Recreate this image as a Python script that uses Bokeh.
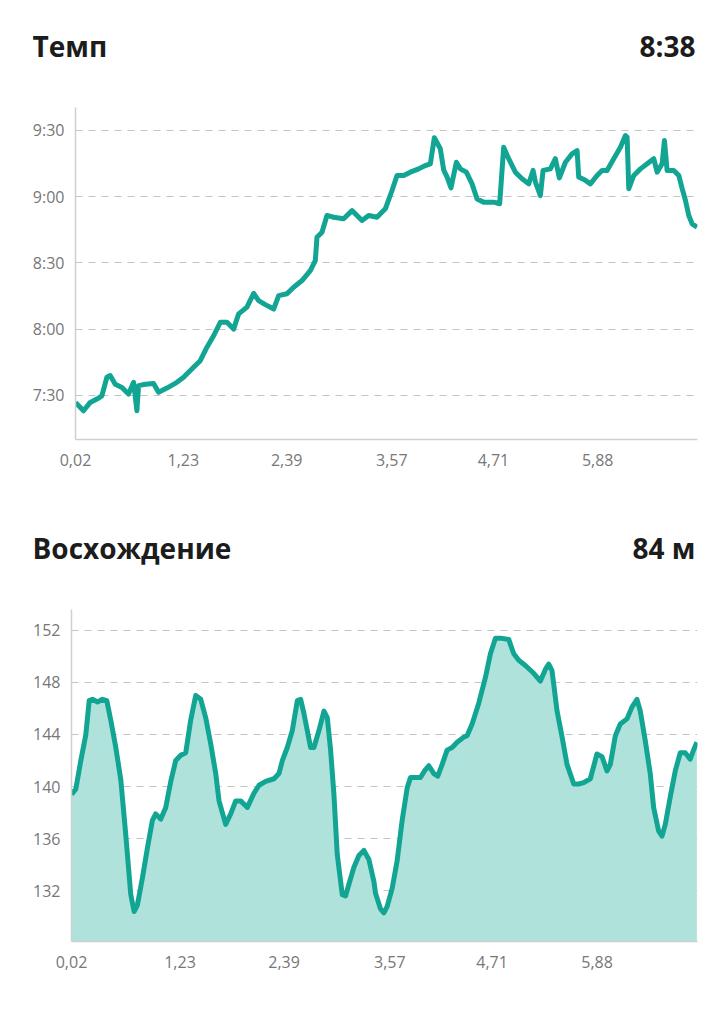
from bokeh.plotting import figure
from bokeh.models import Range1d, FixedTicker
from bokeh.layouts import column
from bokeh.core.properties import value
from bokeh.embed import file_html
from bokeh.resources import INLINE

# ---------------- data ----------------
# distance (km) and pace (seconds per km)
pace_km = [0.02, 0.11, 0.185, 0.26, 0.316, 0.372, 0.409, 0.466, 0.541, 0.615, 0.672, 0.709,
           0.728, 0.803, 0.896, 0.952, 1.046, 1.158, 1.233, 1.345, 1.42, 1.495, 1.57, 1.645,
           1.72, 1.794, 1.851, 1.944, 2.019, 2.075, 2.15, 2.244, 2.30, 2.393, 2.468, 2.562,
           2.655, 2.711, 2.73, 2.786, 2.842, 2.917, 3.029, 3.123, 3.235, 3.31, 3.403, 3.497,
           3.572, 3.628, 3.703, 3.777, 3.871, 3.946, 4.002, 4.047, 4.114, 4.152, 4.189, 4.234,
           4.294, 4.339, 4.406, 4.470, 4.526, 4.601, 4.713, 4.780, 4.825, 4.881, 4.956, 5.031,
           5.106, 5.155, 5.181, 5.237, 5.267, 5.349, 5.405, 5.450, 5.518, 5.592, 5.649, 5.667,
           5.742, 5.798, 5.873, 5.929, 5.985, 6.060, 6.135, 6.191, 6.210, 6.229, 6.285, 6.360,
           6.435, 6.509, 6.547, 6.603, 6.629, 6.659, 6.734, 6.790, 6.828, 6.865, 6.902, 6.940,
           6.996]
pace_sec = [446.8, 443.0, 446.8, 448.3, 449.8, 458.2, 459.0, 455.0, 453.6, 450.6, 455.9, 443.0,
            454.4, 455.0, 455.4, 451.4, 453.3, 455.9, 458.2, 462.7, 465.7, 471.8, 477.0, 483.1,
            483.1, 480.0, 486.9, 490.0, 496.2, 492.9, 491.1, 489.1, 495.2, 496.0, 499.0, 502.0,
            506.5, 511.0, 521.6, 523.9, 531.5, 530.7, 530.0, 533.7, 529.2, 531.5, 530.7, 534.5,
            542.8, 549.6, 549.6, 551.1, 552.6, 554.1, 554.9, 566.7, 561.7, 552.0, 549.0, 544.0,
            555.6, 552.6, 551.1, 545.8, 539.0, 537.5, 537.5, 536.8, 562.4, 557.2, 551.1, 548.1,
            545.8, 551.9, 546.6, 540.5, 551.9, 552.6, 557.2, 548.5, 555.6, 559.4, 560.9, 548.9,
            547.4, 545.8, 549.6, 551.9, 551.9, 557.2, 562.4, 567.7, 567.0, 543.6, 549.6, 552.6,
            554.9, 557.2, 551.1, 554.9, 565.5, 551.9, 551.9, 549.6, 543.6, 538.3, 531.5, 527.7,
            526.2]

# distance (km) and elevation (m)
elev_km = [0.02, 0.068, 0.124, 0.180, 0.217, 0.254, 0.310, 0.365, 0.414, 0.458, 0.514, 0.570,
           0.625, 0.681, 0.718, 0.755, 0.811, 0.867, 0.922, 0.959, 1.015, 1.071, 1.127, 1.182,
           1.238, 1.294, 1.349, 1.405, 1.461, 1.516, 1.572, 1.628, 1.665, 1.702, 1.739, 1.795,
           1.851, 1.906, 1.981, 2.055, 2.111, 2.185, 2.278, 2.333, 2.371, 2.426, 2.482, 2.538,
           2.575, 2.612, 2.649, 2.686, 2.723, 2.779, 2.835, 2.872, 2.909, 2.946, 2.983, 3.039,
           3.076, 3.113, 3.169, 3.225, 3.280, 3.336, 3.392, 3.410, 3.466, 3.503, 3.540, 3.596,
           3.651, 3.707, 3.763, 3.800, 3.856, 3.911, 3.956, 4.004, 4.060, 4.104, 4.153, 4.208,
           4.264, 4.320, 4.394, 4.431, 4.487, 4.561, 4.636, 4.691, 4.747, 4.803, 4.895, 4.951,
           5.007, 5.081, 5.174, 5.248, 5.304, 5.341, 5.378, 5.434, 5.490, 5.545, 5.620, 5.675,
           5.731, 5.805, 5.879, 5.935, 5.991, 6.028, 6.084, 6.139, 6.214, 6.269, 6.325, 6.362,
           6.418, 6.473, 6.511, 6.566, 6.604, 6.641, 6.696, 6.752, 6.808, 6.863, 6.919, 6.956,
           6.993]
elev_m = [139.4, 139.8, 142.0, 144.0, 146.6, 146.7, 146.5, 146.7, 146.6, 145.1, 143.0, 140.5,
          136.3, 131.7, 130.4, 130.9, 133.0, 135.3, 137.4, 137.9, 137.5, 138.4, 140.4, 142.0,
          142.4, 142.6, 145.1, 147.0, 146.7, 145.3, 143.3, 141.0, 138.9, 138.0, 137.1, 137.9,
          138.9, 138.9, 138.4, 139.5, 140.1, 140.4, 140.6, 141.0, 142.0, 143.0, 144.3, 146.6,
          146.7, 145.6, 144.3, 143.0, 143.0, 144.3, 145.8, 145.3, 142.8, 139.4, 134.8, 131.7,
          131.6, 132.5, 133.8, 134.7, 135.1, 134.4, 132.7, 131.8, 130.6, 130.3, 130.8, 132.2,
          134.3, 137.4, 139.9, 140.7, 140.7, 140.7, 141.2, 141.6, 141.0, 140.8, 141.7, 142.8,
          143.0, 143.4, 143.8, 143.9, 144.8, 146.4, 148.4, 150.2, 151.4, 151.4, 151.3, 150.2,
          149.7, 149.3, 148.7, 148.1, 149.0, 149.4, 148.9, 145.8, 143.8, 141.7, 140.2, 140.2,
          140.3, 140.6, 142.5, 142.3, 141.2, 141.7, 143.9, 144.8, 145.2, 146.1, 146.7, 145.8,
          143.5, 141.0, 138.4, 136.6, 136.2, 137.1, 139.2, 141.2, 142.6, 142.6, 142.1, 142.8,
          143.4]

x_ticks = [0.02, 1.23, 2.39, 3.57, 4.71, 5.88]
x_tick_labels = ["0,02", "1,23", "2,39", "3,57", "4,71", "5,88"]
pace_ticks = [450, 480, 510, 540, 570]
pace_tick_labels = ["7:30", "8:00", "8:30", "9:00", "9:30"]
elev_ticks = [132, 136, 140, 144, 148, 152]
elev_tick_labels = ["132", "136", "140", "144", "148", "152"]

pace_title = "Темп"
pace_value = "8:38"
elev_title = "Восхождение"
elev_value = "84 м"

X_START, X_END = 0.02, 7.0
PACE_MIN, PACE_MAX = 430.0, 580.4
ELEV_MIN, ELEV_MAX = 128.1, 153.6

# ---------------- style ----------------
TEAL = "#12a594"
TEAL_FILL = "#b0e2dc"
AXIS = "#cfcfcf"
GRID = "#c4c4c4"
LABEL = "#777777"
TITLE = "#1c1c1c"
FONT = "Open Sans"
W = 717
HEADER_H = 100


def style(p, yticks, ylabels):
    p.outline_line_color = None
    p.background_fill_color = "white"
    p.border_fill_color = "white"
    p.xgrid.grid_line_color = None
    p.ygrid.grid_line_color = GRID
    p.ygrid.grid_line_dash = "7 6"
    p.ygrid.grid_line_width = 1
    p.xaxis.ticker = FixedTicker(ticks=x_ticks)
    p.xaxis.major_label_overrides = {t: l for t, l in zip(x_ticks, x_tick_labels)}
    p.yaxis.ticker = FixedTicker(ticks=yticks)
    p.yaxis.major_label_overrides = {t: l for t, l in zip(yticks, ylabels)}
    for ax in (p.xaxis, p.yaxis):
        ax.axis_line_color = AXIS
        ax.axis_line_width = 1.5
        ax.major_tick_line_color = None
        ax.minor_tick_line_color = None
        ax.major_tick_out = 0
        ax.major_tick_in = 0
        ax.minor_tick_out = 0
        ax.minor_tick_in = 0
        ax.major_label_text_font = FONT
        ax.major_label_text_font_size = "16px"
        ax.major_label_text_color = LABEL
    p.xaxis.major_label_standoff = 14
    p.yaxis.major_label_standoff = 11


def header(left, right, baseline_from_bottom):
    # header strip: y range in pixels from the strip's bottom edge
    h = figure(width=W, height=HEADER_H, x_range=Range1d(0, 1), y_range=Range1d(0, HEADER_H),
               output_backend="svg", toolbar_location=None,
               x_axis_location=None, y_axis_location=None,
               min_border_left=32, min_border_right=W - 695,
               min_border_top=0, min_border_bottom=0, frame_align=False)
    h.outline_line_color = None
    h.xgrid.grid_line_color = None
    h.ygrid.grid_line_color = None
    h.border_fill_color = "white"
    h.background_fill_color = "white"
    h.text(x=[h.x_range.start], y=[baseline_from_bottom], text=[left],
           text_font=value(FONT), text_font_size=value("28px"), text_font_style="bold",
           text_color=TITLE, text_align="left", text_baseline="alphabetic")
    h.text(x=[h.x_range.end], y=[baseline_from_bottom], text=[right],
           text_font=value(FONT), text_font_size=value("28px"), text_font_style="bold",
           text_color=TITLE, text_align="right", text_baseline="alphabetic")
    return h


# ---------------- pace chart ----------------
h1 = header(pace_title, pace_value, 55)
p1 = figure(width=W, height=408, x_range=Range1d(X_START, X_END),
            y_range=Range1d(PACE_MIN, PACE_MAX),
            output_backend="svg", toolbar_location=None,
            min_border_left=75, min_border_right=20,
            min_border_top=7, min_border_bottom=69, frame_align=False)
style(p1, pace_ticks, pace_tick_labels)
p1.line(pace_km, pace_sec, line_color=TEAL, line_width=5, line_join="round")

# ---------------- elevation chart ----------------
h2 = header(elev_title, elev_value, 61)
p2 = figure(width=W, height=400, x_range=Range1d(X_START, X_END),
            y_range=Range1d(ELEV_MIN, ELEV_MAX),
            output_backend="svg", toolbar_location=None,
            min_border_left=71, min_border_right=20,
            min_border_top=1, min_border_bottom=67, frame_align=False)
style(p2, elev_ticks, elev_tick_labels)
p2.varea(x=elev_km, y1=ELEV_MIN, y2=elev_m, fill_color=TEAL_FILL, fill_alpha=1.0)
p2.line(elev_km, elev_m, line_color=TEAL, line_width=5, line_join="round")

layout = column(h1, p1, h2, p2, spacing=0)
open("out.html", "w").write(file_html(layout, INLINE))
